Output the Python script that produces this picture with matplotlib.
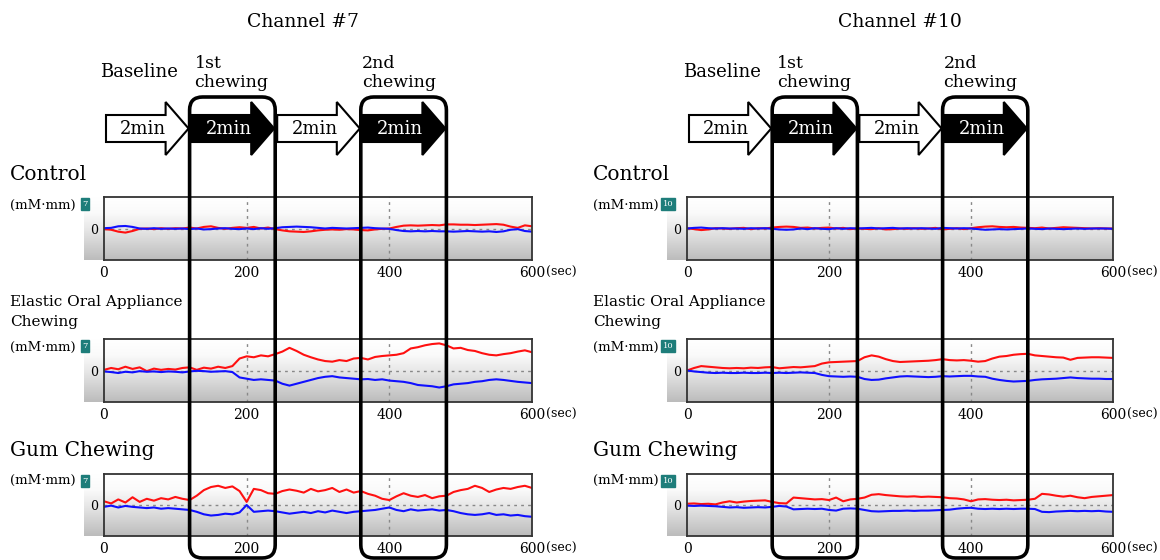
import numpy as np
import matplotlib.pyplot as plt
from matplotlib.patches import FancyBboxPatch, Polygon
from matplotlib.colors import LinearSegmentedColormap

plt.rcParams['font.family'] = ['DejaVu Serif']

# time axis, one reading every 10 s
t = np.arange(0, 601, 10)

# ---- Channel #7 ----
ch7_ctrl_red = [-0.02, -0.04, -0.10, -0.13, -0.08, -0.01, 0.00, -0.02, 0.01, -0.01, 0.01, 0.00, 0.03, 0.00, 0.05, 0.07,
                0.02, -0.01, 0.02, 0.04, 0.02, 0.05, 0.00, 0.03, -0.02, -0.06, -0.09, -0.10, -0.11, -0.09, -0.06, -0.04,
                -0.03, -0.04, -0.02, -0.03, -0.05, -0.06, -0.03, -0.01, 0.00, 0.05, 0.09, 0.10, 0.09, 0.10, 0.11, 0.10,
                0.13, 0.13, 0.12, 0.12, 0.11, 0.12, 0.13, 0.14, 0.12, 0.06, 0.02, 0.10, 0.07]
ch7_ctrl_blue = [0.01, 0.02, 0.07, 0.08, 0.05, 0.00, -0.01, 0.01, -0.01, 0.00, -0.01, 0.00, -0.02, 0.00, -0.03, -0.02,
                 0.00, 0.01, -0.01, -0.02, 0.00, -0.02, 0.01, -0.01, 0.01, 0.04, 0.05, 0.06, 0.05, 0.04, 0.02, 0.00,
                 0.02, 0.01, 0.00, 0.01, 0.02, 0.03, 0.01, 0.00, -0.01, -0.05, -0.08, -0.09, -0.08, -0.09, -0.08, -0.09,
                 -0.09, -0.10, -0.09, -0.08, -0.09, -0.10, -0.09, -0.11, -0.09, -0.04, -0.02, -0.08, -0.10]
ch7_elas_red = [0.02, 0.08, 0.04, 0.12, 0.05, 0.10, -0.02, 0.06, 0.02, 0.05, 0.03, 0.08, 0.10, 0.02, 0.09, 0.06,
                0.12, 0.08, 0.14, 0.38, 0.45, 0.42, 0.48, 0.45, 0.52, 0.60, 0.72, 0.62, 0.50, 0.42, 0.35, 0.30,
                0.28, 0.33, 0.30, 0.38, 0.40, 0.35, 0.43, 0.46, 0.48, 0.50, 0.55, 0.70, 0.74, 0.80, 0.84, 0.86,
                0.80, 0.70, 0.72, 0.65, 0.62, 0.55, 0.50, 0.48, 0.52, 0.55, 0.60, 0.64, 0.58]
ch7_elas_blue = [-0.03, -0.05, -0.08, -0.04, -0.06, -0.02, -0.04, -0.03, -0.05, -0.03, -0.04, -0.06, -0.03, -0.01, -0.02, -0.04,
                 -0.03, -0.02, -0.05, -0.22, -0.26, -0.30, -0.28, -0.30, -0.32, -0.42, -0.48, -0.42, -0.36, -0.30, -0.24, -0.20,
                 -0.18, -0.22, -0.24, -0.26, -0.28, -0.27, -0.30, -0.28, -0.32, -0.34, -0.36, -0.40, -0.46, -0.48, -0.50, -0.54,
                 -0.50, -0.44, -0.42, -0.40, -0.36, -0.34, -0.30, -0.28, -0.30, -0.33, -0.36, -0.38, -0.40]
ch7_gum_red = [0.12, 0.05, 0.18, 0.08, 0.25, 0.10, 0.20, 0.14, 0.22, 0.18, 0.26, 0.20, 0.16, 0.30, 0.48, 0.58,
               0.62, 0.55, 0.60, 0.45, 0.10, 0.52, 0.48, 0.38, 0.36, 0.45, 0.50, 0.46, 0.40, 0.52, 0.44, 0.48,
               0.55, 0.42, 0.50, 0.40, 0.45, 0.36, 0.30, 0.20, 0.16, 0.28, 0.38, 0.30, 0.26, 0.32, 0.22, 0.28,
               0.30, 0.42, 0.48, 0.52, 0.62, 0.55, 0.42, 0.50, 0.55, 0.52, 0.58, 0.62, 0.55]
ch7_gum_blue = [-0.06, -0.02, -0.08, -0.03, -0.06, -0.08, -0.10, -0.08, -0.12, -0.10, -0.12, -0.14, -0.16, -0.22, -0.30, -0.34,
                -0.32, -0.28, -0.30, -0.24, 0.00, -0.22, -0.20, -0.18, -0.20, -0.24, -0.28, -0.25, -0.22, -0.26, -0.20, -0.24,
                -0.18, -0.22, -0.26, -0.22, -0.20, -0.18, -0.16, -0.12, -0.08, -0.16, -0.20, -0.14, -0.18, -0.16, -0.14, -0.18,
                -0.16, -0.20, -0.26, -0.30, -0.32, -0.30, -0.26, -0.32, -0.30, -0.34, -0.32, -0.36, -0.38]

# ---- Channel #10 ----
ch10_ctrl_red = [0.01, -0.02, -0.05, -0.03, 0.01, 0.00, -0.01, 0.01, 0.02, -0.02, 0.01, 0.00, 0.03, 0.05, 0.06, 0.05,
                 0.02, 0.03, 0.00, 0.02, 0.03, 0.00, 0.02, -0.02, 0.00, -0.01, -0.02, 0.01, -0.03, -0.02, 0.00, -0.01,
                 0.01, -0.01, 0.00, 0.02, -0.03, -0.01, 0.01, -0.02, 0.01, 0.04, 0.06, 0.07, 0.05, 0.04, 0.05, 0.03,
                 0.02, 0.01, 0.03, 0.00, 0.02, 0.04, 0.03, 0.02, 0.01, 0.00, 0.01, 0.00, 0.00]
ch10_ctrl_blue = [0.00, 0.02, 0.03, 0.01, 0.00, 0.01, 0.00, 0.00, -0.01, 0.01, 0.00, 0.01, -0.01, -0.03, -0.04, -0.03,
                  0.00, -0.02, 0.01, -0.01, -0.02, 0.01, -0.01, 0.01, 0.00, 0.01, 0.02, 0.00, 0.01, 0.02, 0.00, 0.01,
                  0.00, 0.01, 0.00, -0.01, 0.02, 0.01, 0.00, 0.01, 0.00, -0.02, -0.04, -0.03, -0.02, -0.03, -0.02, -0.01,
                  0.00, -0.01, -0.02, 0.00, -0.01, -0.02, -0.01, 0.00, -0.01, 0.00, 0.00, 0.00, -0.01]
ch10_elas_red = [0.00, 0.08, 0.14, 0.12, 0.10, 0.08, 0.07, 0.08, 0.07, 0.09, 0.08, 0.10, 0.11, 0.07, 0.09, 0.11,
                 0.10, 0.12, 0.14, 0.22, 0.26, 0.27, 0.28, 0.29, 0.30, 0.42, 0.48, 0.44, 0.36, 0.30, 0.27, 0.28,
                 0.29, 0.30, 0.31, 0.33, 0.36, 0.33, 0.32, 0.33, 0.31, 0.28, 0.30, 0.38, 0.44, 0.46, 0.50, 0.52,
                 0.53, 0.48, 0.46, 0.44, 0.42, 0.41, 0.34, 0.40, 0.41, 0.42, 0.42, 0.41, 0.40]
ch10_elas_blue = [0.00, -0.03, -0.05, -0.07, -0.08, -0.07, -0.08, -0.08, -0.07, -0.08, -0.08, -0.07, -0.08, -0.07, -0.08, -0.07,
                  -0.06, -0.07, -0.08, -0.14, -0.18, -0.19, -0.20, -0.19, -0.20, -0.27, -0.30, -0.29, -0.25, -0.22, -0.19, -0.18,
                  -0.19, -0.20, -0.21, -0.20, -0.18, -0.19, -0.18, -0.17, -0.17, -0.19, -0.20, -0.26, -0.30, -0.33, -0.35, -0.34,
                  -0.33, -0.30, -0.28, -0.27, -0.26, -0.24, -0.22, -0.24, -0.25, -0.26, -0.26, -0.27, -0.27]
ch10_gum_red = [0.04, 0.05, 0.03, 0.04, 0.02, 0.08, 0.12, 0.08, 0.11, 0.13, 0.14, 0.15, 0.10, 0.06, 0.05, 0.24,
                0.22, 0.20, 0.18, 0.19, 0.16, 0.24, 0.12, 0.18, 0.20, 0.24, 0.33, 0.35, 0.32, 0.30, 0.28, 0.27,
                0.28, 0.26, 0.27, 0.26, 0.25, 0.22, 0.21, 0.18, 0.12, 0.18, 0.19, 0.17, 0.16, 0.17, 0.15, 0.16,
                0.17, 0.20, 0.36, 0.34, 0.30, 0.27, 0.30, 0.25, 0.22, 0.26, 0.28, 0.30, 0.32]
ch10_gum_blue = [-0.02, -0.03, -0.02, -0.03, -0.04, -0.06, -0.08, -0.07, -0.09, -0.08, -0.07, -0.08, -0.06, -0.03, -0.05, -0.14,
                 -0.13, -0.12, -0.13, -0.12, -0.16, -0.18, -0.12, -0.11, -0.12, -0.16, -0.20, -0.21, -0.20, -0.19, -0.19, -0.18,
                 -0.19, -0.18, -0.18, -0.17, -0.16, -0.15, -0.12, -0.10, -0.09, -0.12, -0.13, -0.12, -0.13, -0.12, -0.13, -0.12,
                 -0.12, -0.13, -0.22, -0.23, -0.21, -0.20, -0.19, -0.20, -0.19, -0.20, -0.19, -0.21, -0.22]

row_names = ['Control', 'Elastic Oral Appliance\nChewing', 'Gum Chewing']
phase_edges = [0, 120, 240, 360, 480]
phase_text = ['2min', '2min', '2min', '2min']
xticks = [0, 200, 400, 600]

W, H = 1160, 560
fig = plt.figure(figsize=(W / 100, H / 100), dpi=100)
fig.patch.set_facecolor('white')

def box(x0, y0, x1, y1):
    # pixel box (top-left origin) -> figure fraction rect
    return [x0 / W, 1 - y1 / H, (x1 - x0) / W, (y1 - y0) / H]

grad = LinearSegmentedColormap.from_list('g', ['#bcbcbc', '#d2d2d2', '#e8e8e8', '#fafafa', '#ffffff'])
gimg = np.linspace(0, 1, 100).reshape(-1, 1)

cols = [
    dict(x0=104, x1=532, ch='7', title='Channel #7', tx=303,
         data=[(ch7_ctrl_red, ch7_ctrl_blue), (ch7_elas_red, ch7_elas_blue), (ch7_gum_red, ch7_gum_blue)]),
    dict(x0=687, x1=1113, ch='10', title='Channel #10', tx=900,
         data=[(ch10_ctrl_red, ch10_ctrl_blue), (ch10_elas_red, ch10_elas_blue), (ch10_gum_red, ch10_gum_blue)]),
]
rows_y = [(197, 260), (339, 402), (474, 536)]
label_y = [(175, 205), (312, 347), (451, 480)]

ov = fig.add_axes([0, 0, 1, 1], zorder=10)
ov.set_xlim(0, W)
ov.set_ylim(H, 0)
ov.axis('off')

for c in cols:
    axes = []
    for r, (y0, y1) in enumerate(rows_y):
        bg = fig.add_axes(box(c['x0'] - 20, y0, c['x1'], y1), zorder=0)
        bg.imshow(gimg, cmap=grad, aspect='auto', origin='lower', extent=[0, 1, 0, 1])
        bg.axis('off')

        ax = fig.add_axes(box(c['x0'], y0, c['x1'], y1), zorder=1)
        ax.set_facecolor('none')
        red, blue = c['data'][r]
        ax.plot(t, red, color='#ff1010', lw=1.5)
        ax.plot(t, blue, color='#1010ff', lw=1.5)
        ax.axhline(0, color='#888888', lw=1, ls=(0, (2, 3)), zorder=0)
        for g in (200, 400):
            ax.axvline(g, color='#888888', lw=1, ls=(0, (2, 3)), zorder=0)
        ax.set_xlim(0, 600)
        ax.set_ylim(-1, 1)
        ax.set_xticks(xticks)
        ax.set_xticklabels([str(v) for v in xticks], fontsize=10)
        ax.set_yticks([0])
        ax.set_yticklabels(['0'], fontsize=9)
        ax.tick_params(axis='x', length=0, pad=4)
        ax.tick_params(axis='y', length=0, pad=4)
        for s in ax.spines.values():
            s.set_color('#333333')
            s.set_linewidth(1.3)
        axes.append(ax)

        ly0, ly1 = label_y[r]
        lx = c['x0'] - 94
        if r == 1:
            ov.text(lx, ly0, row_names[r], fontsize=11, va='center', ha='left', linespacing=1.5)
        else:
            ov.text(lx, ly0, row_names[r], fontsize=14.5, va='center', ha='left')
        ov.text(lx, ly1, '(mM\u00b7mm)', fontsize=9.5, va='center', ha='left')
        ov.text(c['x0'] - 19, y0 + 7, c['ch'], fontsize=6, color='white', ha='center', va='center',
                bbox=dict(boxstyle='square,pad=0.2', fc='#1e7d7a', ec='#1e7d7a'))
        sx = ax.transData.transform((600, 0))[0]
        ov.text(sx + 14, y1 + 12, '(sec)', fontsize=9, va='center', ha='left')

    # time -> figure pixel x using the panel axes
    def px(v):
        return axes[0].transData.transform((v, 0))[0]

    ov.text(c['tx'], 22, c['title'], fontsize=13.5, ha='center', va='center')

    # phase arrows
    yc, bh, hh, hl = 128.5, 13.5, 26.5, 23
    for i in range(4):
        a0 = px(phase_edges[i]) + 2
        a1 = px(phase_edges[i + 1]) - 1
        filled = i % 2 == 1
        pts = [(a0, yc - bh), (a1 - hl, yc - bh), (a1 - hl, yc - hh), (a1, yc),
               (a1 - hl, yc + hh), (a1 - hl, yc + bh), (a0, yc + bh)]
        ov.add_patch(Polygon(pts, closed=True, fc='black' if filled else 'white', ec='black', lw=1.5))
        ov.text((a0 + a1) / 2 - 4, yc, phase_text[i], fontsize=13, ha='center', va='center',
                color='white' if filled else 'black')

    ov.text((px(0) + px(120)) / 2 - 8, 72, 'Baseline', fontsize=13, ha='center', va='center')
    ov.text(px(120) + 5, 73, '1st\nchewing', fontsize=12.5, ha='left', va='center', linespacing=1.2)
    ov.text(px(360) + 1, 73, '2nd\nchewing', fontsize=12.5, ha='left', va='center', linespacing=1.2)

    # chewing period frames
    for a, b in ((120, 240), (360, 480)):
        x0, x1 = px(a), px(b)
        ov.add_patch(FancyBboxPatch((x0, 97), x1 - x0, 461, boxstyle='round,pad=0,rounding_size=13',
                                    fc='none', ec='black', lw=2.6))

fig.savefig('out.png', dpi=100)
